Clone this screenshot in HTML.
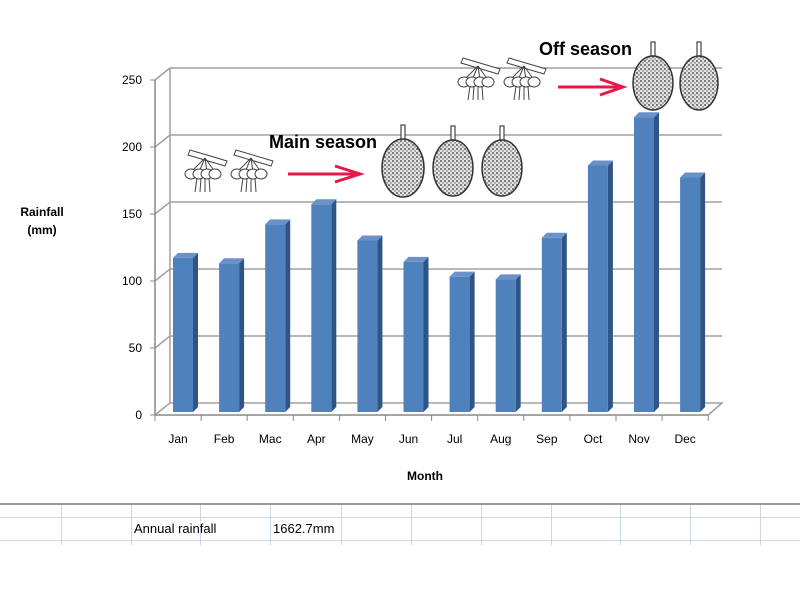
<!DOCTYPE html>
<html><head><meta charset="utf-8"><style>
body{margin:0;background:#fff;width:800px;height:600px;overflow:hidden;font-family:"Liberation Sans",sans-serif}
</style></head><body>
<svg id="chart" width="800" height="600" xmlns="http://www.w3.org/2000/svg" font-family="Liberation Sans, sans-serif">
<defs>
<pattern id="dots" width="4" height="4" patternUnits="userSpaceOnUse">
<rect width="4" height="4" fill="#e4e4e4"/><circle cx="1" cy="1" r="0.9" fill="#333"/><circle cx="3" cy="3" r="0.7" fill="#555"/>
</pattern>
</defs>
<g id="grid"></g>
<g id="bars"></g>
<g id="axes"></g>
<text x="42" y="216" font-size="12" font-weight="bold" text-anchor="middle">Rainfall</text>
<text x="42" y="234" font-size="12" font-weight="bold" text-anchor="middle">(mm)</text>
<text x="425" y="480" font-size="12" font-weight="bold" text-anchor="middle">Month</text>
<text x="269" y="148" font-size="18" font-weight="bold">Main season</text>
<text x="539" y="55" font-size="18" font-weight="bold">Off season</text>
<g stroke="#e8174a" stroke-width="3" fill="none"><line x1="288" y1="174" x2="355" y2="174"/><path d="M335 166 L360 174 L335 182"/></g>
<g stroke="#e8174a" stroke-width="3" fill="none"><line x1="558" y1="87" x2="618" y2="87"/><path d="M600 79 L623 87 L600 95"/></g>
<g id="pics"></g>
<g stroke="#d0d7e5" stroke-width="1">
<line x1="0" y1="504" x2="800" y2="504" stroke="#9a9a9a" stroke-width="2"/>
<line x1="0" y1="517.5" x2="800" y2="517.5"/><line x1="0" y1="540.5" x2="800" y2="540.5"/>
<g id="vlines"></g>
</g>
<text x="134" y="533" font-size="13">Annual rainfall</text>
<text x="273" y="533" font-size="13">1662.7mm</text>
</svg>
<script>
const months=["Jan","Feb","Mac","Apr","May","Jun","Jul","Aug","Sep","Oct","Nov","Dec"];
const rainfall=[115,111,140,155,128,112,101,99,130,184,220,175];
const yTicks=[0,50,100,150,200,250];
const NS="http://www.w3.org/2000/svg";
function mk(t,a,p){const e=document.createElementNS(NS,t);for(const k in a)e.setAttribute(k,a[k]);p.appendChild(e);return e;}
const y0=415,k=1.34,x0=155,step=46.1,dx=15,dy=-12;
const yv=v=>y0-k*v;
const xc=i=>x0+step*i;
const grid=document.getElementById('grid'),axes=document.getElementById('axes'),bars=document.getElementById('bars');
yTicks.forEach(v=>{
 const y=yv(v);
 const g=mk('path',{d:`M${x0} ${y} L${x0+dx} ${y+dy} L722 ${y+dy}`+(v==0?` L${xc(12)} ${y}`:''),stroke:'#a0a0a0','stroke-width':1.5,fill:'none'},grid);
 
 
 const t=mk('text',{x:x0-13,y:y+4,'font-size':12,'text-anchor':'end'},axes);t.textContent=v;
 
 
 mk('line',{x1:x0-5,y1:y,x2:x0,y2:y,stroke:'#888'},axes);
});
mk('line',{x1:x0,y1:yv(0),x2:x0,y2:yv(250),stroke:'#888','stroke-width':1.5},axes);
mk('line',{x1:x0,y1:yv(0),x2:xc(12),y2:yv(0),stroke:'#888','stroke-width':1.5},axes);
mk('line',{x1:x0+dx,y1:yv(250)+dy,x2:x0+dx,y2:yv(0)+dy,stroke:'#a0a0a0','stroke-width':1.5},axes);
for(let i=0;i<=12;i++)mk('line',{x1:xc(i),y1:yv(0),x2:xc(i),y2:yv(0)+6,stroke:'#888'},axes);
months.forEach((m,i)=>{
 const t=mk('text',{x:xc(i)+step/2,y:443,'font-size':12,'text-anchor':'middle'},axes);t.textContent=m;
 
 
 const bx=xc(i)+18,w=20,base=412,top=base-k*rainfall[i];
 const g=mk('g',{},bars);
 
 
 mk('path',{d:`M${bx+w} ${base} L${bx+w+5} ${base-5} L${bx+w+5} ${top-5} L${bx+w} ${top} Z`,fill:'#2f5587'},g);
 mk('path',{d:`M${bx} ${top} L${bx+5} ${top-5} L${bx+w+5} ${top-5} L${bx+w} ${top} Z`,fill:'#6a92c9'},g);
 mk('rect',{x:bx,y:top,width:w,height:base-top,fill:'#4f81bd'},g);
});
const pics=document.getElementById('pics');
function fruit(cx,cy,rx,ry,n){
 const g=mk('g',{},pics);
 
 
 mk('rect',{x:cx-2,y:cy-ry-14,width:4,height:14,fill:'#fff',stroke:'#444','stroke-width':1.2},g);
 mk('ellipse',{cx,cy,rx,ry,fill:'url(#dots)',stroke:'#333','stroke-width':1.5},g);
}
function flower(cx,cy,n){
 const g=mk('g',{},pics);
 
 
 mk('path',{d:`M${cx-15} ${cy-20} L${cx+22} ${cy-9} L${cx+20} ${cy-4} L${cx-17} ${cy-15} Z`,fill:'#fff',stroke:'#444'},g);
 for(let j=0;j<4;j++){mk('line',{x1:cx,y1:cy-12,x2:cx-14+j*8,y2:cy+2,stroke:'#444'},g);
  mk('ellipse',{cx:cx-14+j*8,cy:cy+4,rx:6,ry:5,fill:'#fff',stroke:'#444'},g);
  mk('line',{x1:cx-8+j*4,y1:cy+8,x2:cx-10+j*5,y2:cy+22,stroke:'#444'},g);}
}
flower(205,170,1);flower(251,170,2);flower(478,78,3);flower(524,78,4);
fruit(403,168,21,29,1);fruit(453,168,20,28,2);fruit(502,168,20,28,3);fruit(653,83,20,27,4);fruit(699,83,19,27,5);
const vl=document.getElementById('vlines');
[61,131,200,270,341,411,481,551,620,690,760].forEach(x=>mk('line',{x1:x+.5,y1:505,x2:x+.5,y2:545},vl));
</script>
</body></html>
